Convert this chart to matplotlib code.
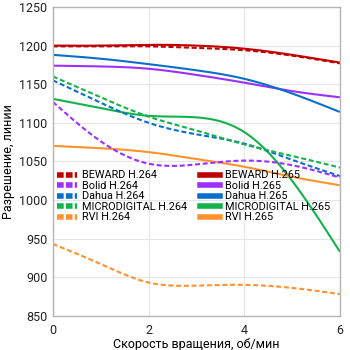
import numpy as np
import matplotlib
matplotlib.use("Agg")
import matplotlib.pyplot as plt
from matplotlib.lines import Line2D

plt.rcParams['font.family'] = ['Roboto', 'DejaVu Sans']

speed = [0, 1, 2, 3, 4, 5, 6]

beward_264 = [1199, 1199, 1199, 1197, 1194, 1187, 1177]
bolid_264 = [1127, 1076, 1047, 1046, 1051, 1045, 1029]
dahua_264 = [1155, 1126, 1100, 1085, 1073, 1052, 1031]
micro_264 = [1160, 1133, 1108, 1090, 1072, 1057, 1042]
rvi_264 = [943, 917, 893, 889, 890, 886, 878]

beward_265 = [1200, 1200, 1201, 1200, 1196, 1188, 1178]
bolid_265 = [1174, 1173, 1170, 1162, 1152, 1141, 1133]
dahua_265 = [1188, 1183, 1176, 1168, 1157, 1138, 1114]
micro_265 = [1131, 1119, 1109, 1107, 1088, 1025, 933]
rvi_265 = [1070, 1067, 1062, 1053, 1043, 1030, 1019]

names = ['BEWARD', 'Bolid', 'Dahua', 'MICRODIGITAL', 'RVI']
colors = ['#c00000', '#9b30ff', '#0a6fcc', '#13b24b', '#ff922e']
series_264 = [beward_264, bolid_264, dahua_264, micro_264, rvi_264]
series_265 = [beward_265, bolid_265, dahua_265, micro_265, rvi_265]

y_ticks = [850, 900, 950, 1000, 1050, 1100, 1150, 1200, 1250]
x_ticks = [0, 2, 4, 6]


def smooth(x, y, n=300):
    x = np.asarray(x, float)
    y = np.asarray(y, float)
    m = len(x)
    h = np.diff(x)
    A = np.zeros((m, m))
    b = np.zeros(m)
    A[0, 0] = 1
    A[-1, -1] = 1
    for i in range(1, m - 1):
        A[i, i - 1] = h[i - 1]
        A[i, i] = 2 * (h[i - 1] + h[i])
        A[i, i + 1] = h[i]
        b[i] = 6 * ((y[i + 1] - y[i]) / h[i] - (y[i] - y[i - 1]) / h[i - 1])
    M = np.linalg.solve(A, b)
    xs = np.linspace(x[0], x[-1], n)
    ys = np.empty_like(xs)
    for k, xv in enumerate(xs):
        i = min(np.searchsorted(x, xv, side='right') - 1, m - 2)
        t0 = x[i + 1] - xv
        t1 = xv - x[i]
        hi = h[i]
        ys[k] = (M[i] * t0 ** 3 / (6 * hi) + M[i + 1] * t1 ** 3 / (6 * hi)
                 + (y[i] / hi - M[i] * hi / 6) * t0
                 + (y[i + 1] / hi - M[i + 1] * hi / 6) * t1)
    return xs, ys


fig = plt.figure(figsize=(3.5, 3.5), dpi=100)
ax = fig.add_axes([0.151, 0.098, 0.82, 0.882])

lw = 1.5
dash = (2.4, 1.3)
for vals, c in zip(series_265, colors):
    xs, ys = smooth(speed, vals)
    ax.plot(xs, ys, color=c, lw=lw, solid_capstyle='butt')
for vals, c in zip(series_264, colors):
    xs, ys = smooth(speed, vals)
    ax.plot(xs, ys, color=c, lw=lw, dashes=dash)

ax.set_xlim(0, 6)
ax.set_ylim(850, 1250)
ax.set_xticks(x_ticks)
ax.set_yticks(y_ticks)
ax.grid(True, color='#e6e6e6', lw=0.8)
ax.set_axisbelow(True)
for s in ax.spines.values():
    s.set_color('#b5b5b5')
    s.set_linewidth(1)
ax.tick_params(axis='y', length=0, labelsize=9, colors='#222222', pad=4)
ax.tick_params(axis='x', length=0, labelsize=9, colors='#222222', pad=6)
ax.set_xlabel('Скорость вращения, об/мин', fontsize=9, labelpad=1)
ax.set_ylabel('Разрешение, линии', fontsize=9, labelpad=3)

handles = []
labels = []
for n, c in zip(names, colors):
    handles.append(Line2D([], [], color=c, lw=4, dashes=(1.2, 0.4)))
    labels.append(f'{n} H.264')
for n, c in zip(names, colors):
    handles.append(Line2D([], [], color=c, lw=4))
    labels.append(f'{n} H.265')
ax.legend(handles, labels, ncol=2, frameon=False, fontsize=7.8,
          loc='upper left', bbox_to_anchor=(0.0, 0.485),
          handlelength=1.8, handletextpad=0.5, columnspacing=1.2,
          labelspacing=0.05, borderaxespad=0)

fig.savefig('out.png', dpi=100)
